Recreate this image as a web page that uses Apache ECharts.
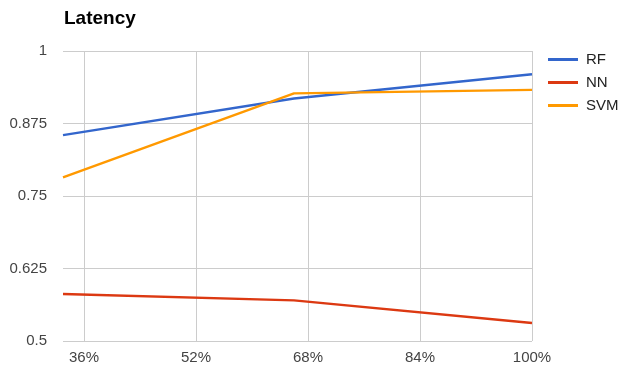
<!DOCTYPE html>
<html><head><meta charset="utf-8">
<script src="https://cdn.jsdelivr.net/npm/echarts@6/dist/echarts.min.js"></script>
<style>html,body{margin:0;padding:0;background:#fff}#c{width:619px;height:371px}</style>
</head><body><div id="c"></div>
<script>
const title = 'Latency';
const xValues = [33, 66, 100];
const xTicks = [36, 52, 68, 84, 100];
const yTicks = [0.5, 0.625, 0.75, 0.875, 1];
const seriesNames = ['RF', 'NN', 'SVM'];
const rf = [0.855, 0.918, 0.960];
const nn = [0.581, 0.570, 0.531];
const svm = [0.782, 0.927, 0.933];
const colors = ['#3366cc', '#dc3912', '#ff9900'];

const font = 'Arial, "Liberation Sans", sans-serif';
const valuesBySeries = [rf, nn, svm];
const chart = echarts.init(document.getElementById('c'));
chart.setOption({
  animation: false,
  color: colors,
  title: { text: title, left: 59, top: 4, textStyle: { fontFamily: font, fontSize: 19, fontWeight: 'bold', color: '#000' } },
  legend: {
    orient: 'vertical', left: 543, top: 47, itemWidth: 30, itemHeight: 3, itemGap: 8,
    icon: 'rect',
    textStyle: { fontFamily: font, fontSize: 15, color: '#222', padding: [0, 0, 0, 3] },
    data: seriesNames
  },
  grid: { left: 63, right: 87, top: 51, bottom: 30 },
  xAxis: {
    type: 'value', min: xValues[0], max: xValues[xValues.length - 1],
    axisLine: { show: false }, axisTick: { show: false, customValues: xTicks },
    axisLabel: { customValues: xTicks, formatter: v => v + '%', fontFamily: font, fontSize: 15, color: '#444', margin: 9 },
    splitLine: { show: true, lineStyle: { color: '#cccccc', width: 1 } }
  },
  yAxis: {
    type: 'value', min: yTicks[0], max: yTicks[yTicks.length - 1], interval: 0.125,
    axisLine: { show: false }, axisTick: { show: false },
    axisLabel: { fontFamily: font, fontSize: 15, color: '#444', margin: 16 },
    splitLine: { show: true, lineStyle: { color: '#cccccc', width: 1 } }
  },
  series: seriesNames.map((n, i) => ({
    name: n, type: 'line', showSymbol: false, symbol: 'none',
    lineStyle: { width: 2.4 },
    data: xValues.map((x, j) => [x, valuesBySeries[i][j]])
  }))
});
</script></body></html>
